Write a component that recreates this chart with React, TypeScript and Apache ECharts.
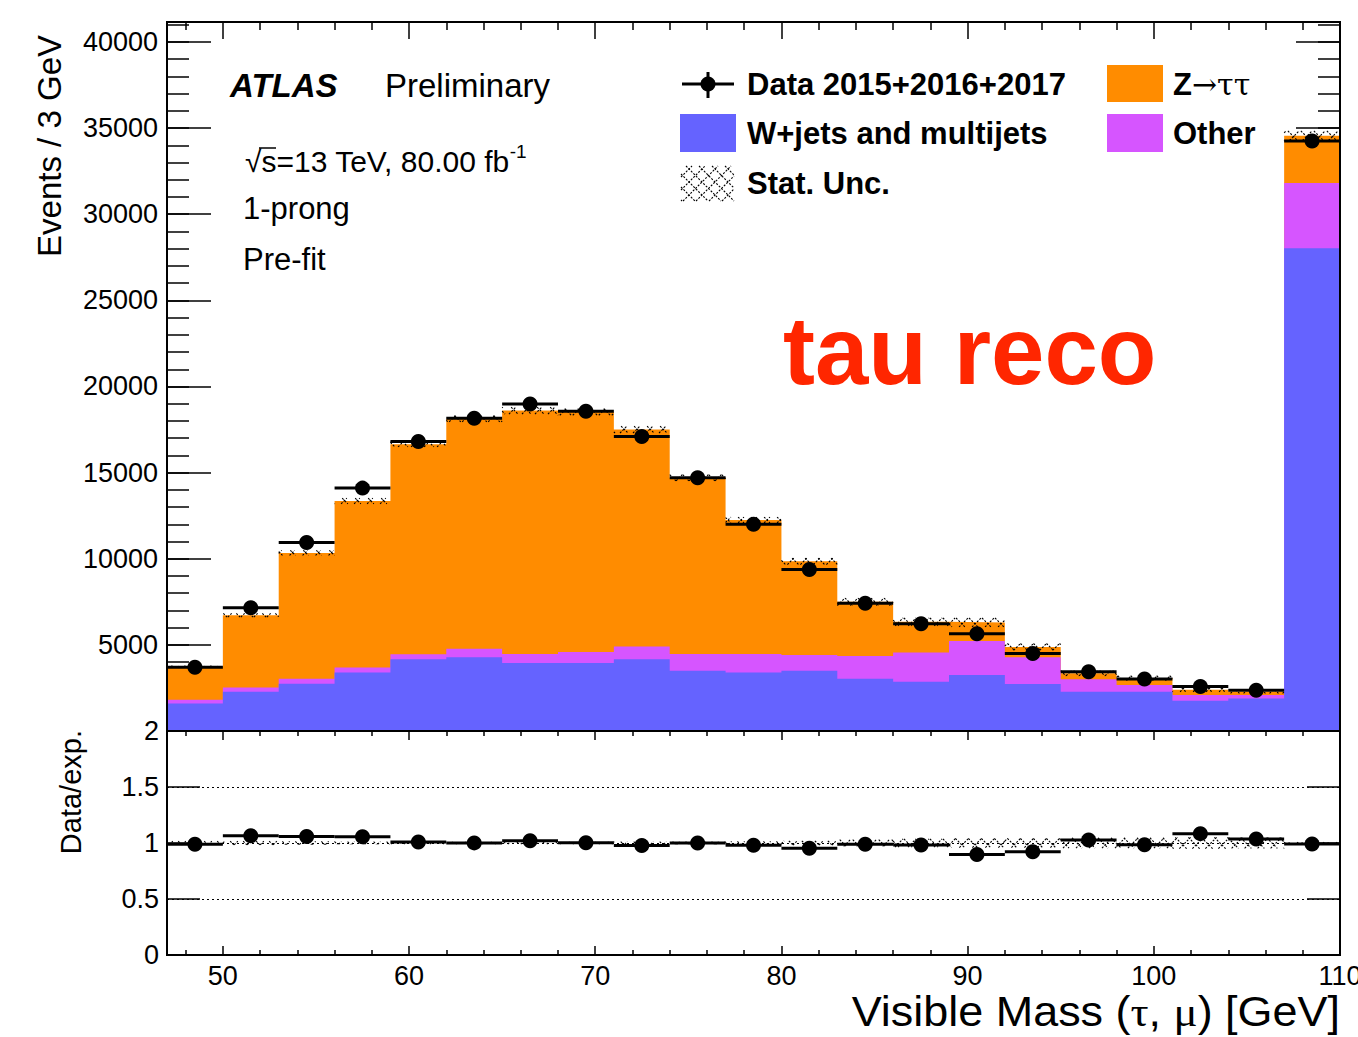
import React, { useEffect, useRef } from "react";
import * as echarts from "echarts";

// Visible-mass bin edges in GeV (3 GeV bins; the last bin collects the overflow)
const binEdges = [47, 50, 53, 56, 59, 62, 65, 68, 71, 74, 77, 80, 83, 86, 89, 92, 95, 98, 101, 104, 107, 110];

// Expected events per bin for each background component
const wJetsMultijets = [1600, 2280, 2750, 3390, 4160, 4280, 3950, 3950, 4160, 3500, 3390, 3500, 3040, 2860, 3250, 2730, 2280, 2280, 1760, 1890, 28030];
const otherBkg = [220, 240, 290, 290, 290, 500, 520, 640, 740, 970, 1080, 910, 1310, 1700, 1970, 1550, 720, 390, 330, 200, 3780];
const zTauTau = [1920, 4200, 7300, 9670, 12200, 13350, 14130, 13930, 12600, 10230, 7780, 5440, 3150, 1780, 1080, 600, 350, 400, 300, 200, 2750];

// Observed events per bin
const dataCounts = [3700, 7150, 10950, 14100, 16800, 18150, 18980, 18560, 17100, 14700, 12000, 9380, 7420, 6230, 5650, 4500, 3440, 3020, 2590, 2370, 34250];

// Statistical uncertainty on the total expectation (events)
const statUnc = [60, 110, 150, 165, 160, 180, 200, 190, 200, 180, 170, 190, 220, 230, 260, 200, 150, 140, 120, 110, 280];

// Axis ticks and labels
const majorXTicks = [50, 60, 70, 80, 90, 100, 110];
const minorXTicks = [48, 52, 54, 56, 58, 62, 64, 66, 68, 72, 74, 76, 78, 82, 84, 86, 88, 92, 94, 96, 98, 102, 104, 106, 108];
const mainYLabels = [5000, 10000, 15000, 20000, 25000, 30000, 35000, 40000];

const X_MIN = 47;
const X_MAX = 110;
const MAIN_Y_MAX = 41160;

const COLOR_Z = "#ff8c00";
const COLOR_W = "#6563ff";
const COLOR_OTHER = "#d655ff";
const COLOR_STAMP = "#ff2600";

const SANS = "'Liberation Sans', Arial, Helvetica, sans-serif";
const SERIF = "'Liberation Serif', 'DejaVu Serif', serif";

// Pad geometry (pixels)
const PLOT_LEFT = 167;
const PLOT_WIDTH = 1173;
const MAIN_TOP = 22;
const MAIN_HEIGHT = 709;
const RATIO_TOP = MAIN_TOP + MAIN_HEIGHT;
const RATIO_HEIGHT = 224;

const HATCH_STEP = 13;

// Stacked histogram tops
const wPlusOther = wJetsMultijets.map((w, i) => w + otherBkg[i]);
const totalExp = wPlusOther.map((v, i) => v + zTauTau[i]);

function stepPoints(values: number[]) {
  const pts = values.map((v, i) => [binEdges[i], v]);
  pts.push([binEdges[binEdges.length - 1], values[values.length - 1]]);
  return pts;
}

// Cross-hatch segments (two families of 45 degree lines) inside a pixel rectangle
function crossHatch(x0: number, y0: number, x1: number, y1: number) {
  const segs: number[][] = [];
  const a0 = Math.ceil((x0 + y0) / HATCH_STEP);
  const a1 = Math.floor((x1 + y1) / HATCH_STEP);
  for (let k = a0; k <= a1; k++) {
    const c = k * HATCH_STEP;
    const xa = Math.max(x0, c - y1);
    const xb = Math.min(x1, c - y0);
    if (xb > xa) segs.push([xa, c - xa, xb, c - xb]);
  }
  const b0 = Math.ceil((x0 - y1) / HATCH_STEP);
  const b1 = Math.floor((x1 - y0) / HATCH_STEP);
  for (let k = b0; k <= b1; k++) {
    const c = k * HATCH_STEP;
    const xa = Math.max(x0, c + y0);
    const xb = Math.min(x1, c + y1);
    if (xb > xa) segs.push([xa, xa - c, xb, xb - c]);
  }
  return segs;
}

function hatchLines(segs: number[][]) {
  return segs.map((s) => ({
    type: "line",
    shape: { x1: s[0], y1: s[1], x2: s[2], y2: s[3] },
    style: { stroke: "#000", lineWidth: 1.1, lineDash: [2, 1.5] },
  }));
}

function renderHatch(_params: any, api: any) {
  const tl = api.coord([api.value(0), api.value(3)]);
  const br = api.coord([api.value(1), api.value(2)]);
  const y0 = Math.min(tl[1], br[1]);
  const y1 = Math.max(tl[1], br[1]);
  return { type: "group", children: hatchLines(crossHatch(tl[0], y0, br[0], y1)) };
}

function renderDataPoint(_params: any, api: any) {
  const lo = api.coord([api.value(0), api.value(2)]);
  const hi = api.coord([api.value(1), api.value(2)]);
  return {
    type: "group",
    children: [
      {
        type: "line",
        shape: { x1: lo[0], y1: lo[1], x2: hi[0], y2: hi[1] },
        style: { stroke: "#000", lineWidth: 3 },
      },
      {
        type: "circle",
        shape: { cx: (lo[0] + hi[0]) / 2, cy: lo[1], r: 7.5 },
        style: { fill: "#000" },
      },
    ],
  };
}

const mainHatch = totalExp.map((t, i) => [binEdges[i], binEdges[i + 1], t - statUnc[i], t + statUnc[i]]);
const ratioHatch = totalExp.map((t, i) => [binEdges[i], binEdges[i + 1], 1 - statUnc[i] / t, 1 + statUnc[i] / t]);
const mainData = dataCounts.map((d, i) => [binEdges[i], binEdges[i + 1], d]);
const ratioData = dataCounts.map((d, i) => [binEdges[i], binEdges[i + 1], d / totalExp[i]]);

const tickLine = { color: "#000", width: 1.5 };
const labelStyle = { fontSize: 27, color: "#000", fontFamily: SANS };
const plainNumber = (v: number) => String(v);

function xAxisDef(gridIndex: number, position: string, ticks: number[], length: number, labels: boolean) {
  return {
    type: "value",
    gridIndex,
    position,
    min: X_MIN,
    max: X_MAX,
    axisLine: { show: false, onZero: false },
    axisTick: { show: true, inside: true, length, customValues: ticks, lineStyle: tickLine },
    axisLabel: labels
      ? { show: true, customValues: majorXTicks, margin: 7, formatter: plainNumber, ...labelStyle }
      : { show: false },
    splitLine: { show: false },
  };
}

function mainYAxisDef(position: string, major: boolean, labels: boolean) {
  return {
    type: "value",
    gridIndex: 0,
    position,
    min: 0,
    max: MAIN_Y_MAX,
    interval: major ? 5000 : 1000,
    axisLine: { show: false, onZero: false },
    axisTick: {
      show: true,
      inside: true,
      length: major ? 44 : 22,
      lineStyle: tickLine,
      ...(major ? { customValues: mainYLabels } : {}),
    },
    axisLabel: labels
      ? { show: true, customValues: mainYLabels, margin: 9, formatter: plainNumber, ...labelStyle }
      : { show: false },
    splitLine: { show: false },
  };
}

function ratioYAxisDef(position: string, labels: boolean) {
  return {
    type: "value",
    gridIndex: 1,
    position,
    min: 0,
    max: 2,
    interval: 0.5,
    axisLine: { show: false, onZero: false },
    axisTick: { show: true, inside: true, length: 33, lineStyle: tickLine },
    axisLabel: labels ? { show: true, margin: 8, formatter: plainNumber, ...labelStyle } : { show: false },
    splitLine: labels
      ? { show: true, lineStyle: { color: "#000", width: 1, type: [2, 3] } }
      : { show: false },
  };
}

function textEl(x: number, y: number, text: string, fontSize: number, extra: any = {}, elExtra: any = {}) {
  return {
    type: "text",
    x,
    y,
    z: 100,
    silent: true,
    ...elExtra,
    style: {
      text,
      fontSize,
      fontFamily: SANS,
      fill: "#000",
      align: "left",
      verticalAlign: "middle",
      textAlign: "left",
      textVerticalAlign: "middle",
      ...extra,
    },
  };
}

function boxEl(x: number, y: number, w: number, h: number, color: string) {
  return { type: "rect", z: 100, silent: true, shape: { x, y, width: w, height: h }, style: { fill: color } };
}

function buildOption() {
  const graphics: any[] = [
    // Pad frames
    {
      type: "rect",
      z: 100,
      silent: true,
      shape: { x: PLOT_LEFT, y: MAIN_TOP, width: PLOT_WIDTH, height: MAIN_HEIGHT },
      style: { fill: "none", stroke: "#000", lineWidth: 2 },
    },
    {
      type: "rect",
      z: 100,
      silent: true,
      shape: { x: PLOT_LEFT, y: RATIO_TOP, width: PLOT_WIDTH, height: RATIO_HEIGHT },
      style: { fill: "none", stroke: "#000", lineWidth: 2 },
    },
    // Labels
    textEl(230, 85, "ATLAS", 33, { fontWeight: "bold", fontStyle: "italic" }),
    textEl(385, 85, "Preliminary", 33),
    textEl(245, 161, "{m|√s=13 TeV, 80.00 fb}{s|-1}", 30, {
      rich: {
        m: { fontSize: 30, fontFamily: SANS, fill: "#000", lineHeight: 38 },
        s: { fontSize: 19, fontFamily: SANS, fill: "#000", verticalAlign: "top" },
      },
    }),
    {
      type: "line",
      z: 100,
      silent: true,
      shape: { x1: 259, y1: 148, x2: 276, y2: 148 },
      style: { stroke: "#000", lineWidth: 1.5 },
    },
    textEl(243, 208, "1-prong", 31),
    textEl(243, 259, "Pre-fit", 31),
    // Legend
    {
      type: "line",
      z: 100,
      silent: true,
      shape: { x1: 682, y1: 84, x2: 734, y2: 84 },
      style: { stroke: "#000", lineWidth: 3 },
    },
    {
      type: "line",
      z: 100,
      silent: true,
      shape: { x1: 708, y1: 72, x2: 708, y2: 98 },
      style: { stroke: "#000", lineWidth: 3 },
    },
    { type: "circle", z: 101, silent: true, shape: { cx: 708, cy: 84, r: 7.5 }, style: { fill: "#000" } },
    textEl(747, 84, "Data 2015+2016+2017", 31, { fontWeight: "bold" }),
    boxEl(680, 114, 56, 38, COLOR_W),
    textEl(747, 133, "W+jets and multijets", 31, { fontWeight: "bold" }),
    {
      type: "group",
      z: 100,
      silent: true,
      children: hatchLines(crossHatch(681, 166, 734, 201)),
    },
    textEl(747, 183, "Stat. Unc.", 31, { fontWeight: "bold" }),
    boxEl(1107, 65, 56, 37, COLOR_Z),
    textEl(1173, 84, "{b|Z}{n|→ττ}", 31, {
      rich: {
        b: { fontSize: 31, fontWeight: "bold", fontFamily: SANS, fill: "#000" },
        n: { fontSize: 30, fontFamily: "'DejaVu Serif', serif", fill: "#000" },
      },
    }),
    boxEl(1107, 114, 56, 38, COLOR_OTHER),
    textEl(1173, 133, "Other", 31, { fontWeight: "bold" }),
    // Axis titles
    textEl(49.5, 35, "Events / 3 GeV", 33, { align: "right", textAlign: "right" }, { rotation: Math.PI / 2 }),
    textEl(71, 730, "Data/exp.", 29, { align: "right", textAlign: "right" }, { rotation: Math.PI / 2 }),
    textEl(
      1340,
      1012,
      "{a|Visible Mass (}{g|τ}{a|, }{g|μ}{a|) [GeV]}",
      42,
      {
        align: "right",
        textAlign: "right",
        rich: {
          a: { fontSize: 42, fontFamily: SANS, fill: "#000" },
          g: { fontSize: 42, fontFamily: SERIF, fill: "#000" },
        },
      },
      { scaleX: 1.07 }
    ),
    // Stamp
    {
      ...textEl(783, 350, "tau reco", 96, { fontWeight: "bold", fill: COLOR_STAMP }),
      z: 110,
    },
  ];

  return {
    animation: false,
    backgroundColor: "#fff",
    tooltip: { show: false },
    grid: [
      { left: PLOT_LEFT, top: MAIN_TOP, width: PLOT_WIDTH, height: MAIN_HEIGHT, outerBoundsMode: "none", containLabel: false },
      { left: PLOT_LEFT, top: RATIO_TOP, width: PLOT_WIDTH, height: RATIO_HEIGHT, outerBoundsMode: "none", containLabel: false },
    ],
    xAxis: [
      xAxisDef(0, "top", majorXTicks, 17, false),
      xAxisDef(0, "top", minorXTicks, 8, false),
      xAxisDef(1, "bottom", majorXTicks, 9, true),
      xAxisDef(1, "bottom", minorXTicks, 5, false),
      xAxisDef(1, "top", majorXTicks, 9, false),
      xAxisDef(1, "top", minorXTicks, 5, false),
    ],
    yAxis: [
      mainYAxisDef("left", true, true),
      mainYAxisDef("left", false, false),
      mainYAxisDef("right", true, false),
      mainYAxisDef("right", false, false),
      ratioYAxisDef("left", true),
      ratioYAxisDef("right", false),
    ],
    series: [
      {
        name: "Z→ττ",
        type: "line",
        xAxisIndex: 0,
        yAxisIndex: 0,
        step: "end",
        symbol: "none",
        z: 2,
        lineStyle: { width: 0, opacity: 0 },
        areaStyle: { color: COLOR_Z, opacity: 1 },
        data: stepPoints(totalExp),
      },
      {
        name: "Other",
        type: "line",
        xAxisIndex: 0,
        yAxisIndex: 0,
        step: "end",
        symbol: "none",
        z: 3,
        lineStyle: { width: 0, opacity: 0 },
        areaStyle: { color: COLOR_OTHER, opacity: 1 },
        data: stepPoints(wPlusOther),
      },
      {
        name: "W+jets and multijets",
        type: "line",
        xAxisIndex: 0,
        yAxisIndex: 0,
        step: "end",
        symbol: "none",
        z: 4,
        lineStyle: { width: 0, opacity: 0 },
        areaStyle: { color: COLOR_W, opacity: 1 },
        data: stepPoints(wJetsMultijets),
      },
      {
        name: "Stat. Unc.",
        type: "custom",
        xAxisIndex: 0,
        yAxisIndex: 0,
        z: 5,
        encode: { x: [0, 1], y: [2, 3] },
        renderItem: renderHatch,
        data: mainHatch,
      },
      {
        name: "Data 2015+2016+2017",
        type: "custom",
        xAxisIndex: 0,
        yAxisIndex: 0,
        z: 6,
        encode: { x: [0, 1], y: 2 },
        renderItem: renderDataPoint,
        data: mainData,
      },
      {
        name: "Stat. Unc. ratio",
        type: "custom",
        xAxisIndex: 2,
        yAxisIndex: 4,
        z: 5,
        encode: { x: [0, 1], y: [2, 3] },
        renderItem: renderHatch,
        data: ratioHatch,
      },
      {
        name: "Data/exp.",
        type: "custom",
        xAxisIndex: 2,
        yAxisIndex: 4,
        z: 6,
        encode: { x: [0, 1], y: 2 },
        renderItem: renderDataPoint,
        data: ratioData,
      },
    ],
    graphic: { elements: graphics },
  };
}

export default function App() {
  const ref = useRef<HTMLDivElement>(null);
  useEffect(() => {
    if (!ref.current) return;
    const chart = echarts.init(ref.current, null, { renderer: "svg" });
    chart.setOption(buildOption() as any);
    return () => chart.dispose();
  }, []);
  return (
    <div style={{ position: "fixed", left: 0, top: 0, width: 1358, height: 1037, background: "#fff" }}>
      <div ref={ref} style={{ width: 1358, height: 1037 }} />
    </div>
  );
}
